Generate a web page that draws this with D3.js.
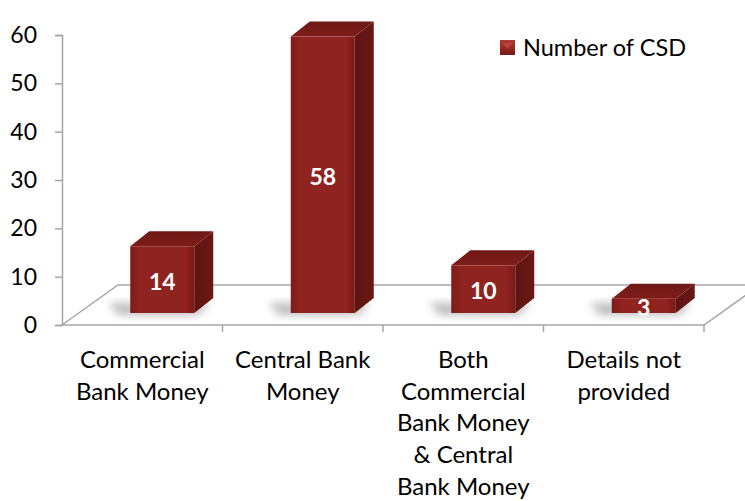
<!DOCTYPE html>
<html>
<head>
<meta charset="utf-8">
<script src="https://cdn.jsdelivr.net/npm/d3@7"></script>
<style>
  html, body { margin: 0; padding: 0; background: #fff; }
  svg { display: block; font-family: Lato, "Open Sans", sans-serif; }
</style>
</head>
<body>
<svg id="chart" width="745" height="501"></svg>
<script>
// ---- data ----
const categories = [
  "Commercial Bank Money",
  "Central Bank Money",
  "Both Commercial Bank Money & Central Bank Money",
  "Details not provided"
];
const categoryLines = [
  ["Commercial", "Bank Money"],
  ["Central Bank", "Money"],
  ["Both", "Commercial", "Bank Money", "& Central", "Bank Money"],
  ["Details not", "provided"]
];
const values = [14, 58, 10, 3];
const yTicks = [0, 10, 20, 30, 40, 50, 60];
const seriesName = "Number of CSD";

// ---- layout ----
const svg = d3.select("#chart");
const left = 62, right = 704, floorFront = 325, floorBack = 285, floorDx = 56;
const depthDx = 19, depthDy = -15;
const barW = 64, barOffset = 20;

const x = d3.scaleBand().domain(categories).range([left, right]).padding(0);
const yAxisScale = d3.scaleLinear().domain([0, 60]).range([floorFront, 35]);
const yBar = d3.scaleLinear().domain([0, 60]).range([313, 27]);

const defs = svg.append("defs");
const gFront = defs.append("linearGradient").attr("id", "gFront").attr("x1", 0).attr("x2", 1).attr("y1", 0).attr("y2", 0);
gFront.append("stop").attr("offset", "0%").attr("stop-color", "#7e1b1a");
gFront.append("stop").attr("offset", "15%").attr("stop-color", "#8f2320");
gFront.append("stop").attr("offset", "85%").attr("stop-color", "#8f2320");
gFront.append("stop").attr("offset", "100%").attr("stop-color", "#7a1a18");
const gSide = defs.append("linearGradient").attr("id", "gSide").attr("x1", 0).attr("x2", 1).attr("y1", 0).attr("y2", 0);
gSide.append("stop").attr("offset", "0%").attr("stop-color", "#5e1411");
gSide.append("stop").attr("offset", "100%").attr("stop-color", "#6a1814");
const gTop = defs.append("linearGradient").attr("id", "gTop").attr("x1", 0).attr("x2", 0).attr("y1", 0).attr("y2", 1);
gTop.append("stop").attr("offset", "0%").attr("stop-color", "#6e1815");
gTop.append("stop").attr("offset", "100%").attr("stop-color", "#7f1d1a");
const gLeg = defs.append("linearGradient").attr("id", "gLeg").attr("x1", 0).attr("x2", 0).attr("y1", 0).attr("y2", 1);
gLeg.append("stop").attr("offset", "0%").attr("stop-color", "#b03a35");
gLeg.append("stop").attr("offset", "100%").attr("stop-color", "#7a1816");
const blur = defs.append("filter").attr("id", "blur").attr("x", "-50%").attr("y", "-50%").attr("width", "200%").attr("height", "200%");
blur.append("feGaussianBlur").attr("stdDeviation", 4);

// ---- floor ----
const axisColor = "#a6a6a6";
svg.append("polygon")
  .attr("points", [[left, floorFront], [left + floorDx, floorBack], [right + floorDx, floorBack], [right, floorFront]].map(p => p.join(",")).join(" "))
  .attr("fill", "#fff").attr("stroke", axisColor).attr("stroke-width", 1.5);

// category ticks
svg.append("g").selectAll("line").data(categories.slice(1).map(c => x(c)).concat([right]))
  .join("line")
  .attr("x1", d => d).attr("x2", d => d)
  .attr("y1", floorFront).attr("y2", floorFront + 7)
  .attr("stroke", axisColor).attr("stroke-width", 1.5);

// ---- y axis ----
const yAxis = d3.axisLeft(yAxisScale).tickValues(yTicks).tickSize(7).tickPadding(18);
const gy = svg.append("g").attr("transform", `translate(${left},0)`).call(yAxis);
gy.select(".domain").attr("stroke", axisColor).attr("stroke-width", 1.5);
gy.selectAll(".tick line").attr("stroke", axisColor).attr("stroke-width", 1.5);
gy.selectAll(".tick text").attr("font-size", 23).attr("fill", "#000").attr("font-family", "Lato, sans-serif");

// ---- bars ----
const bars = svg.append("g").selectAll("g").data(values.map((v, i) => ({ v, c: categories[i] }))).join("g");
bars.each(function (d) {
  const g = d3.select(this);
  const x0 = x(d.c) + x.bandwidth() / 2 + barOffset - barW / 2;
  const x1 = x0 + barW;
  const yb = yBar(0), yt = yBar(d.v);
  g.append("polygon")
    .attr("points", [[x0 - 22, yb - 10], [x1 + depthDx - 4, yb - 10], [x1 + 4, yb + 2], [x0 - 12, yb + 2]].map(p => p.join(",")).join(" "))
    .attr("fill", "#7a7a7a").attr("opacity", 0.5).attr("filter", "url(#blur)");
  g.append("polygon")
    .attr("points", [[x1, yt], [x1 + depthDx, yt + depthDy], [x1 + depthDx, yb + depthDy], [x1, yb]].map(p => p.join(",")).join(" "))
    .attr("fill", "url(#gSide)");
  g.append("polygon")
    .attr("points", [[x0, yt], [x0 + depthDx, yt + depthDy], [x1 + depthDx, yt + depthDy], [x1, yt]].map(p => p.join(",")).join(" "))
    .attr("fill", "url(#gTop)");
  g.append("rect")
    .attr("x", x0).attr("y", yt).attr("width", barW).attr("height", yb - yt)
    .attr("fill", "url(#gFront)");
  g.append("text")
    .attr("x", (x0 + x1) / 2).attr("y", (yt + yb) / 2 + 1)
    .attr("text-anchor", "middle").attr("dominant-baseline", "central")
    .attr("font-size", 23).attr("font-weight", "bold").attr("fill", "#fff")
    .text(d.v);
});

// ---- category labels ----
const labels = svg.append("g").selectAll("text").data(categories).join("text")
  .attr("x", d => x(d) + x.bandwidth() / 2)
  .attr("y", 368)
  .attr("text-anchor", "middle")
  .attr("font-size", 24)
  .attr("fill", "#000");
labels.each(function (d, i) {
  d3.select(this).selectAll("tspan").data(categoryLines[i]).join("tspan")
    .attr("x", x(d) + x.bandwidth() / 2)
    .attr("dy", (t, j) => j === 0 ? 0 : 31.7)
    .text(t => t);
});

// ---- legend ----
const leg = svg.append("g").attr("transform", "translate(500,40)");
leg.append("rect").attr("width", 15).attr("height", 15).attr("fill", "url(#gLeg)");
leg.append("path").attr("d", "M2,3 L7.5,9 L13,3 Z").attr("fill", "#c9504a").attr("opacity", 0.6);
leg.append("text").attr("x", 23).attr("y", 15.5).attr("font-size", 23.5).attr("fill", "#000").text(seriesName);
</script>
</body>
</html>
